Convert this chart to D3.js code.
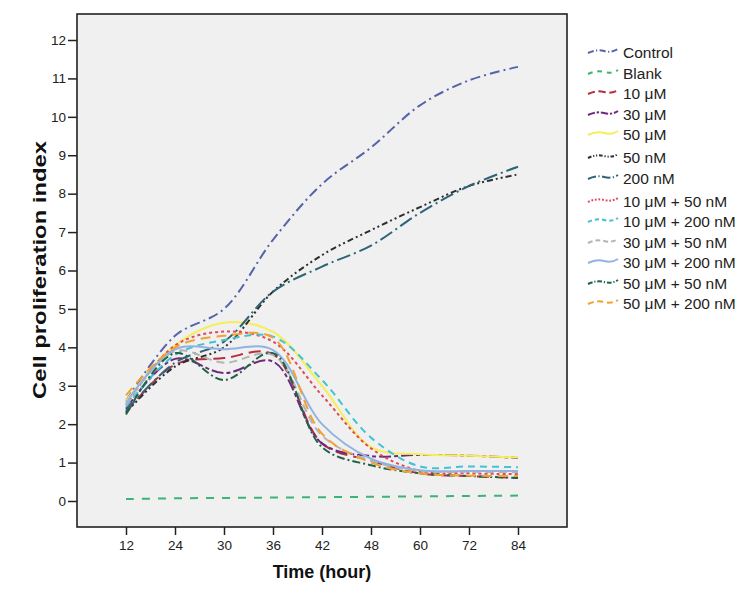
<!DOCTYPE html>
<html>
<head>
<meta charset="utf-8">
<script src="https://cdn.jsdelivr.net/npm/d3@7"></script>
<style>
  body { margin: 0; background: #fff; }
  svg { display: block; font-family: "Liberation Sans", Arial, sans-serif; }
</style>
</head>
<body>
<svg id="chart" width="756" height="601"></svg>
<script>
const times = ["12", "24", "30", "36", "42", "48", "60", "72", "84"];
const yTicks = [0,1,2,3,4,5,6,7,8,9,10,11,12];
const seriesNames = ["Control","Blank","10 μM","30 μM","50 μM","50 nM","200 nM",
  "10 μM + 50 nM","10 μM + 200 nM","30 μM + 50 nM","30 μM + 200 nM","50 μM + 50 nM","50 μM + 200 nM"];

const control   = [2.6, 4.3, 5.0, 6.8, 8.25, 9.2, 10.3, 10.95, 11.3];
const blank     = [0.05, 0.07, 0.08, 0.09, 0.1, 0.11, 0.12, 0.13, 0.14];
const uM10      = [2.3, 3.55, 3.72, 3.82, 1.5, 1.05, 0.72, 0.65, 0.6];
const uM30      = [2.4, 3.7, 3.33, 3.63, 1.5, 1.17, 1.2, 1.18, 1.12];
const uM50      = [2.6, 4.05, 4.64, 4.4, 3.0, 1.4, 1.22, 1.18, 1.13];
const nM50      = [2.3, 3.5, 4.0, 5.45, 6.4, 7.05, 7.65, 8.2, 8.5];
const nM200     = [2.35, 3.6, 4.15, 5.45, 6.1, 6.65, 7.5, 8.2, 8.7];
const uM10nM50  = [2.5, 4.05, 4.41, 4.15, 2.75, 1.37, 0.78, 0.72, 0.7];
const uM10nM200 = [2.45, 3.8, 4.19, 4.28, 3.15, 1.65, 0.9, 0.9, 0.88];
const uM30nM50  = [2.5, 3.9, 3.6, 3.8, 1.7, 1.05, 0.78, 0.76, 0.75];
const uM30nM200 = [2.55, 3.95, 3.95, 3.93, 2.0, 1.1, 0.8, 0.78, 0.78];
const uM50nM50  = [2.25, 3.85, 3.15, 3.85, 1.4, 0.93, 0.72, 0.65, 0.6];
const uM50nM200 = [2.75, 4.0, 4.3, 4.25, 1.75, 1.0, 0.72, 0.66, 0.65];

const seriesValues = [control, blank, uM10, uM30, uM50, nM50, nM200,
  uM10nM50, uM10nM200, uM30nM50, uM30nM200, uM50nM50, uM50nM200];

const styles = [
  {color:"#5563a8", dash:"10,4,2,4"},
  {color:"#3db374", dash:"8,8"},
  {color:"#b3303f", dash:"12,6"},
  {color:"#6e2a7e", dash:"12,3,4,3"},
  {color:"#f4ee58", dash:null},
  {color:"#2e2e2e", dash:"6,3,2,3,2,3"},
  {color:"#2f6474", dash:"14,4,2,4"},
  {color:"#e2475a", dash:"3,3"},
  {color:"#45c2d2", dash:"7,5"},
  {color:"#b4b4b4", dash:"8,5"},
  {color:"#92b3e0", dash:null},
  {color:"#1f6446", dash:"8,3,2,3"},
  {color:"#f2a232", dash:"10,6"}
];

const svg = d3.select("#chart");
const frame = {left: 77, right: 567, top: 14, bottom: 527};

const x = d3.scalePoint().domain(times).range([frame.left, frame.right]).padding(1);
const y = d3.scaleLinear().domain([0, 12]).range([501, 40]);

svg.append("rect")
  .attr("x", frame.left).attr("y", frame.top)
  .attr("width", frame.right - frame.left).attr("height", frame.bottom - frame.top)
  .attr("fill", "#f0f0f0");

const line = d3.line()
  .x((d, i) => x(times[i]))
  .y(d => y(d))
  .curve(d3.curveCatmullRom.alpha(0.5));

const g = svg.append("g");
seriesValues.forEach((vals, k) => {
  g.append("path")
    .datum(vals)
    .attr("d", line)
    .attr("fill", "none")
    .attr("stroke", styles[k].color)
    .attr("stroke-width", 2)
    .attr("stroke-dasharray", styles[k].dash);
});

svg.append("rect")
  .attr("x", frame.left).attr("y", frame.top)
  .attr("width", frame.right - frame.left).attr("height", frame.bottom - frame.top)
  .attr("fill", "none").attr("stroke", "#222").attr("stroke-width", 1.6);

const yAxis = svg.append("g")
  .attr("transform", `translate(${frame.left},0)`)
  .call(d3.axisLeft(y).tickValues(yTicks).tickSize(9).tickPadding(2).tickFormat(d3.format("d")));
yAxis.select(".domain").remove();
yAxis.selectAll("line").attr("stroke", "#222").attr("stroke-width", 1.5);
yAxis.selectAll("text").attr("font-size", 13.5).attr("fill", "#222")
  .attr("font-family", "Liberation Sans, Arial, sans-serif");

const xAxis = svg.append("g")
  .attr("transform", `translate(0,${frame.bottom})`)
  .call(d3.axisBottom(x).tickSize(8).tickPadding(5));
xAxis.select(".domain").remove();
xAxis.selectAll("line").attr("stroke", "#222").attr("stroke-width", 1.5);
xAxis.selectAll("text").attr("font-size", 13.5).attr("fill", "#222")
  .attr("font-family", "Liberation Sans, Arial, sans-serif");

svg.append("text")
  .attr("x", 322).attr("y", 578)
  .attr("text-anchor", "middle")
  .attr("font-size", 18).attr("font-weight", "bold").attr("fill", "#111")
  .text("Time (hour)");

svg.append("text")
  .attr("transform", `translate(46, 270) rotate(-90)`)
  .attr("text-anchor", "middle")
  .attr("font-size", 17.5).attr("font-weight", "bold").attr("fill", "#111")
  .attr("textLength", 258).attr("lengthAdjust", "spacingAndGlyphs")
  .text("Cell proliferation index");

const legendY = [52, 73, 93, 114, 134, 157, 178, 201, 221, 242, 262, 283, 303];
const leg = svg.append("g");
seriesNames.forEach((name, k) => {
  const yy = legendY[k];
  leg.append("path")
    .attr("d", `M588,${yy + 1} Q596,${yy - 3} 604,${yy - 1} T618,${yy - 3}`)
    .attr("fill", "none")
    .attr("stroke", styles[k].color)
    .attr("stroke-width", 2)
    .attr("stroke-dasharray", styles[k].dash ? styles[k].dash.split(",").map(v => +v * 0.6).join(",") : null);
  leg.append("text")
    .attr("x", 623).attr("y", yy + 5.5)
    .attr("font-size", 15.5).attr("fill", "#222")
    .text(name);
});
</script>
</body>
</html>
